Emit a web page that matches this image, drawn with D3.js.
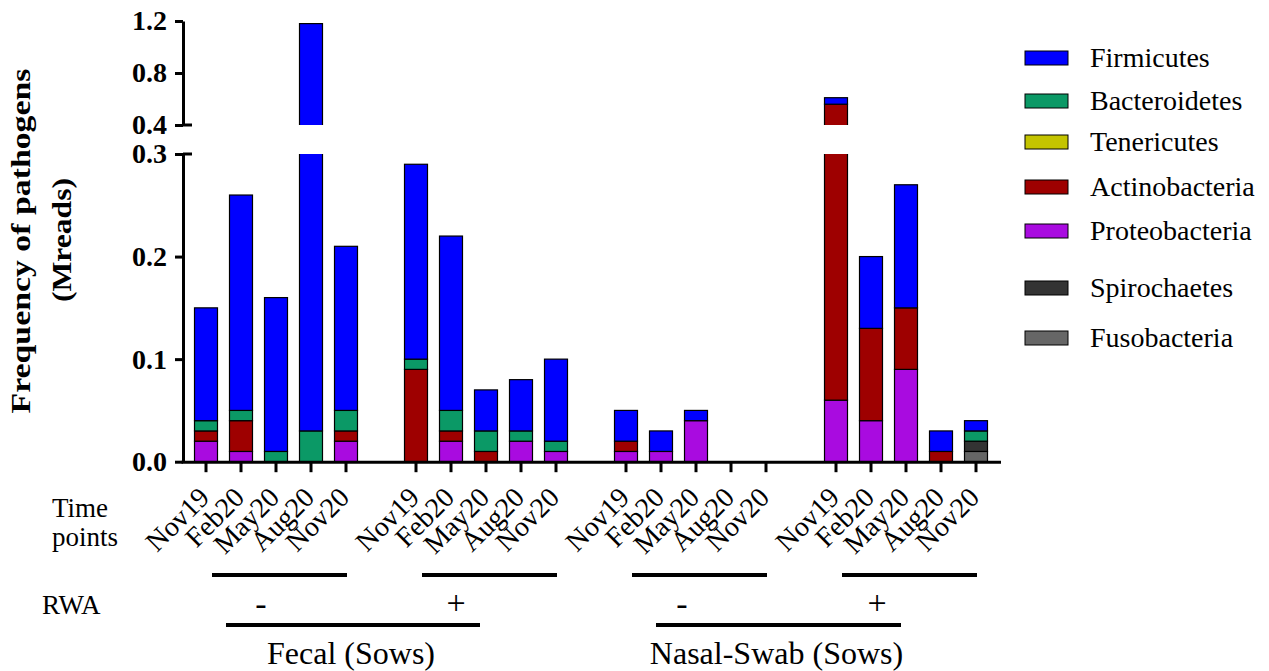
<!DOCTYPE html>
<html>
<head>
<meta charset="utf-8">
<script src="https://cdn.jsdelivr.net/npm/d3@7"></script>
<style>
  body { margin: 0; background: #fff; }
  text { font-family: "Liberation Serif", "Times New Roman", serif; fill: #000; }
</style>
</head>
<body>
<svg width="1269" height="671"></svg>
<script>
// phyla, bottom of the stack last in this list (legend order)
const phyla = ['Firmicutes', 'Bacteroidetes', 'Tenericutes', 'Actinobacteria', 'Proteobacteria', 'Spirochaetes', 'Fusobacteria'];
const timePoints = ['Nov19', 'Feb20', 'May20', 'Aug20', 'Nov20'];
const groups = ['Fecal RWA-', 'Fecal RWA+', 'Nasal RWA-', 'Nasal RWA+'];

// values in Mreads, 5 time points per group, groups in order above
const firmicutes     = [0.11, 0.21, 0.15, 1.15, 0.16,  0.19, 0.17, 0.04, 0.05, 0.08,  0.03, 0.02, 0.01, 0, 0,  0.05, 0.07, 0.12, 0.02, 0.01];
const bacteroidetes  = [0.01, 0.01, 0.01, 0.03, 0.02,  0.01, 0.02, 0.02, 0.01, 0.01,  0, 0, 0, 0, 0,  0, 0, 0, 0, 0.01];
const tenericutes    = [0, 0, 0, 0, 0,  0, 0, 0, 0, 0,  0, 0, 0, 0, 0,  0, 0, 0, 0, 0];
const actinobacteria = [0.01, 0.03, 0, 0, 0.01,  0.09, 0.01, 0.01, 0, 0,  0.01, 0, 0, 0, 0,  0.50, 0.09, 0.06, 0.01, 0];
const proteobacteria = [0.02, 0.01, 0, 0, 0.02,  0, 0.02, 0, 0.02, 0.01,  0.01, 0.01, 0.04, 0, 0,  0.06, 0.04, 0.09, 0, 0];
const spirochaetes   = [0, 0, 0, 0, 0,  0, 0, 0, 0, 0,  0, 0, 0, 0, 0,  0, 0, 0, 0, 0.01];
const fusobacteria   = [0, 0, 0, 0, 0,  0, 0, 0, 0, 0,  0, 0, 0, 0, 0,  0, 0, 0, 0, 0.01];

const lowTicks = [0, 0.1, 0.2, 0.3];
const highTicks = [0.4, 0.8, 1.2];

const colors = {
    Firmicutes: '#0000ff',
    Bacteroidetes: '#0b9966',
    Tenericutes: '#c4c400',
    Actinobacteria: '#9e0000',
    Proteobacteria: '#a90be0',
    Spirochaetes: '#333333',
    Fusobacteria: '#666666'
};

const series = [firmicutes, bacteroidetes, tenericutes, actinobacteria, proteobacteria, spirochaetes, fusobacteria];

// build rows, with an empty spacer slot after each group
const slots = [];
const rows = [];
groups.forEach((g, gi) => {
    timePoints.forEach((t, ti) => {
        const i = gi * timePoints.length + ti;
        const row = {slot: `${g}|${t}`, time: t};
        phyla.forEach((p, pi) => { row[p] = series[pi][i]; });
        rows.push(row);
        slots.push(row.slot);
    });
    if (gi < groups.length - 1) slots.push(`gap${gi}`);
});

const svg = d3.select('svg');

const xScale = d3.scaleBand()
    .domain(slots)
    .range([188.5, 993.5])
    .paddingInner(0.343)
    .paddingOuter(0.1715);

const yLow = d3.scaleLinear().domain([0, 0.3]).range([461.7, 154]);
const yHigh = d3.scaleLinear().domain([0.4, 1.2]).range([125, 21]);

const axisX = 183;

// clip regions for the broken axis
const defs = svg.append('defs');
defs.append('clipPath').attr('id', 'clipLow')
    .append('rect').attr('x', axisX).attr('y', yLow(0.3)).attr('width', 820).attr('height', yLow(0) - yLow(0.3));
defs.append('clipPath').attr('id', 'clipHigh')
    .append('rect').attr('x', axisX).attr('y', yHigh(1.2) - 5).attr('width', 820).attr('height', yHigh(0.4) - yHigh(1.2) + 5);

const stack = d3.stack().keys(phyla.slice().reverse());
const stacked = stack(rows);

const drawBars = (yScale, clipId) => {
    const g = svg.append('g').attr('clip-path', `url(#${clipId})`);
    g.selectAll('g').data(stacked).enter().append('g')
        .attr('fill', d => colors[d.key])
        .selectAll('rect')
        .data(d => d.filter(s => s[1] - s[0] > 0))
        .enter().append('rect')
            .attr('x', d => xScale(d.data.slot))
            .attr('width', xScale.bandwidth())
            .attr('y', d => yScale(d[1]))
            .attr('height', d => yScale(d[0]) - yScale(d[1]))
            .attr('stroke', '#000')
            .attr('stroke-width', 1.2);
};
drawBars(yLow, 'clipLow');
drawBars(yHigh, 'clipHigh');

// y axes
const styleAxis = sel => {
    sel.selectAll('path.domain').attr('stroke', '#000').attr('stroke-width', 3);
    sel.selectAll('.tick line').attr('stroke', '#000').attr('stroke-width', 3);
    sel.selectAll('.tick text')
        .attr('font-family', '"Liberation Serif", "Times New Roman", serif')
        .attr('font-weight', 'bold')
        .attr('font-size', 28)
        .attr('fill', '#000');
};

svg.append('g')
    .attr('transform', `translate(${axisX},0)`)
    .call(d3.axisLeft(yLow).tickValues(lowTicks).tickFormat(d3.format('.1f')).tickSize(8).tickSizeOuter(0).tickPadding(8))
    .call(styleAxis);

svg.append('g')
    .attr('transform', `translate(${axisX},0)`)
    .call(d3.axisLeft(yHigh).tickValues(highTicks).tickFormat(d3.format('.1f')).tickSize(8).tickSizeOuter(0).tickPadding(8))
    .call(styleAxis);

// break caps
[yLow(0.3), yHigh(0.4)].forEach(y => {
    svg.append('line')
        .attr('x1', axisX).attr('x2', axisX + 9)
        .attr('y1', y).attr('y2', y)
        .attr('stroke', '#000').attr('stroke-width', 3);
});

// x axis
const dataSlots = rows.map(r => r.slot);
const xAxisG = svg.append('g')
    .attr('transform', `translate(0,${yLow(0) + 0.5})`)
    .call(d3.axisBottom(xScale).tickValues(dataSlots).tickFormat(s => s.split('|')[1]).tickSize(10).tickSizeOuter(0));
xAxisG.select('path.domain').remove();
xAxisG.append('line')
    .attr('x1', axisX - 1.5).attr('x2', 1001)
    .attr('y1', 0).attr('y2', 0)
    .attr('stroke', '#000').attr('stroke-width', 3);
xAxisG.selectAll('.tick line').attr('stroke', '#000').attr('stroke-width', 3);
xAxisG.selectAll('.tick text')
    .attr('font-family', '"Liberation Serif", "Times New Roman", serif')
    .attr('font-size', 28)
    .attr('fill', '#000')
    .attr('text-anchor', 'end')
    .attr('x', 0).attr('y', 0).attr('dy', 0)
    .attr('transform', 'translate(5,37) rotate(-45)');

// y title
const title = svg.append('g').attr('font-weight', 'bold').attr('font-size', 28);
title.append('text')
    .attr('transform', 'translate(30,241) rotate(-90)')
    .attr('text-anchor', 'middle')
    .attr('textLength', 345)
    .attr('lengthAdjust', 'spacingAndGlyphs')
    .text('Frequency of pathogens');
title.append('text')
    .attr('transform', 'translate(71,240) rotate(-90)')
    .attr('text-anchor', 'middle')
    .attr('textLength', 124)
    .attr('lengthAdjust', 'spacingAndGlyphs')
    .text('(Mreads)');

// left labels
svg.append('text').attr('x', 52).attr('y', 517).attr('font-size', 27).text('Time');
svg.append('text').attr('x', 52).attr('y', 546).attr('font-size', 27).text('points');
svg.append('text').attr('x', 42).attr('y', 614).attr('font-size', 27).text('RWA');

// group brackets
const firstOf = gi => xScale(rows[gi * 5].slot) + xScale.bandwidth() / 2;
const lastOf = gi => xScale(rows[gi * 5 + 4].slot) + xScale.bandwidth() / 2;

groups.forEach((g, gi) => {
    svg.append('line')
        .attr('x1', firstOf(gi) + 6).attr('x2', lastOf(gi) + 1)
        .attr('y1', 575).attr('y2', 575)
        .attr('stroke', '#000').attr('stroke-width', 4);
});

const signs = [
    {text: '-', x: 261, y: 615},
    {text: '+', x: 456, y: 614},
    {text: '-', x: 682, y: 615},
    {text: '+', x: 877, y: 614}
];
svg.selectAll('text.sign').data(signs).enter().append('text')
    .attr('class', 'sign')
    .attr('x', d => d.x).attr('y', d => d.y)
    .attr('text-anchor', 'middle')
    .attr('font-size', 34)
    .text(d => d.text);

const sites = [
    {text: 'Fecal (Sows)', x1: 226, x2: 480},
    {text: 'Nasal-Swab (Sows)', x1: 656, x2: 901}
];
sites.forEach(s => {
    svg.append('line')
        .attr('x1', s.x1).attr('x2', s.x2)
        .attr('y1', 625).attr('y2', 625)
        .attr('stroke', '#000').attr('stroke-width', 4);
    svg.append('text')
        .attr('x', (s.x1 + s.x2) / 2 - 2).attr('y', 664)
        .attr('text-anchor', 'middle')
        .attr('font-size', 32)
        .text(s.text);
});

// legend
const legendY = [58, 101, 142, 187, 231, 288, 338];
const legend = svg.append('g');
phyla.forEach((p, i) => {
    legend.append('rect')
        .attr('x', 1025).attr('y', legendY[i] - 7)
        .attr('width', 43).attr('height', 14)
        .attr('fill', colors[p])
        .attr('stroke', '#000').attr('stroke-width', 1);
    legend.append('text')
        .attr('x', 1090).attr('y', legendY[i] + 9)
        .attr('font-size', 28)
        .text(p);
});
</script>
</body>
</html>
